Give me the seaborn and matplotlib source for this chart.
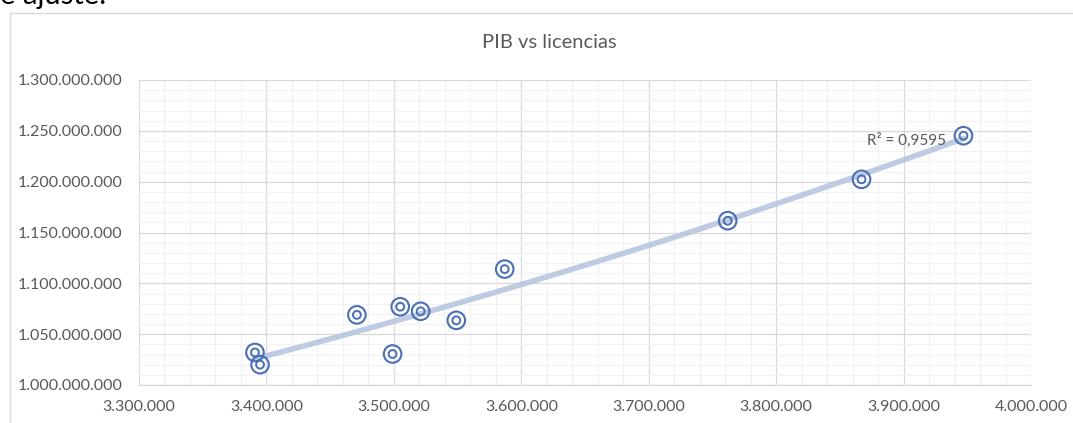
import numpy as np
import pandas as pd
import matplotlib
matplotlib.use("Agg")
import matplotlib.pyplot as plt
import seaborn as sns
from matplotlib.ticker import MultipleLocator, FuncFormatter
from matplotlib.patches import Rectangle

# data
pib = [3391000, 3395000, 3471000, 3499000, 3505000, 3521000,
       3549000, 3587000, 3762000, 3867000, 3947000]
licencias = [1032000000, 1020000000, 1069000000, 1030500000, 1077000000, 1072500000,
             1063600000, 1114000000, 1161600000, 1202300000, 1245200000]
r2_label = "R² = 0,9595"
title = "PIB vs licencias"

df = pd.DataFrame({"pib": pib, "licencias": licencias})

# polynomial trend line (order 2), as in the Excel chart
coef = np.polyfit(df["pib"], df["licencias"], 2)
trend = pd.DataFrame({"pib": np.linspace(df["pib"].min(), df["pib"].max(), 100)})
trend["licencias"] = np.polyval(coef, trend["pib"])

sns.set_theme(style="white")
plt.rcParams["font.family"] = ["Lato", "DejaVu Sans"]

W, H = 1073, 423
fig = plt.figure(figsize=(W / 100, H / 100), dpi=100)
ax = fig.add_axes([139 / W, 1 - 385 / H, (1031 - 139) / W, (385 - 80) / H])

blue = "#4A6FB5"
sns.lineplot(data=trend, x="pib", y="licencias", ax=ax, color="#B8C6DF",
             linewidth=4.0, alpha=0.9, zorder=2)
sns.scatterplot(data=df, x="pib", y="licencias", ax=ax, marker="o", s=160,
                facecolor="none", edgecolor=blue, linewidth=1.5, zorder=3)
sns.scatterplot(data=df, x="pib", y="licencias", ax=ax, marker="o", s=32,
                facecolor="none", edgecolor=blue, linewidth=1.4, zorder=3)

ax.set_xlim(3300000, 4000000)
ax.set_ylim(1000000000, 1300000000)
ax.xaxis.set_major_locator(MultipleLocator(100000))
ax.xaxis.set_minor_locator(MultipleLocator(20000))
ax.yaxis.set_major_locator(MultipleLocator(50000000))
ax.yaxis.set_minor_locator(MultipleLocator(10000000))
fmt = FuncFormatter(lambda v, p: f"{int(round(v)):,}".replace(",", "."))
ax.xaxis.set_major_formatter(fmt)
ax.yaxis.set_major_formatter(fmt)

ax.grid(which="major", color="#D9D9D9", linewidth=0.9, zorder=0)
ax.grid(which="minor", color="#F2F2F2", linewidth=0.9, zorder=0)
ax.set_axisbelow(True)
for s in ax.spines.values():
    s.set_visible(False)
ax.spines["bottom"].set_visible(True)
ax.spines["bottom"].set_color("#D9D9D9")
ax.spines["bottom"].set_linewidth(0.9)

ax.tick_params(axis="both", which="both", length=0, labelsize=11.5,
               colors="#595959")
ax.yaxis.set_tick_params(which="major", pad=12)
ax.xaxis.set_tick_params(which="major", pad=11)
ax.set_xlabel("")
ax.set_ylabel("")

ax.text(3933000, 1241000000, r2_label, fontsize=11, color="#595959",
        ha="right", va="center", zorder=4)

fig.text(549 / W, 1 - 43 / H, title, fontsize=14.5, color="#595959",
         ha="center", va="center")

# chart frame and cut-off caption above it
fig.patches.append(Rectangle((10 / W, -0.05), 1.2, 1 - 13 / H + 0.05,
                             transform=fig.transFigure, fill=False,
                             edgecolor="#D9D9D9", linewidth=1.0))
fig.text(0.0, 1 - 9 / H, "e ajuste.", fontsize=21, color="black",
         ha="left", va="bottom")

fig.savefig("out.png", dpi=100)
